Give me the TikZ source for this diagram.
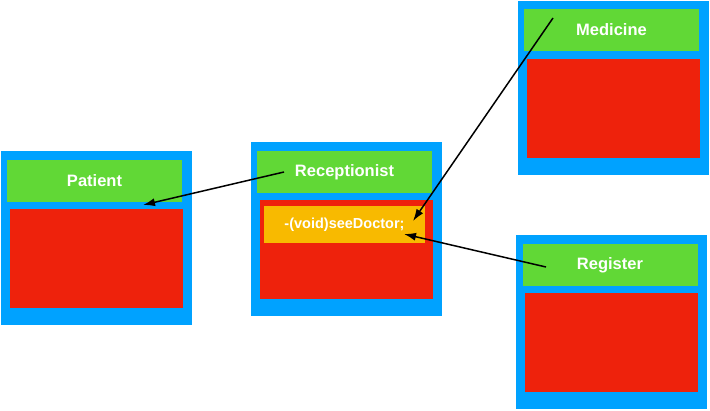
\documentclass[tikz,border=0pt]{standalone}
\usepackage{fontspec}
\setmainfont{Liberation Sans}
\usetikzlibrary{arrows.meta}
\definecolor{classblue}{HTML}{00A2FF}
\definecolor{titlegreen}{HTML}{61D836}
\definecolor{bodyred}{HTML}{EE220C}
\definecolor{methodorange}{HTML}{F8BA00}
\begin{document}
\begin{tikzpicture}[x=1pt,y=-1pt,
    classbox/.style={fill=classblue, minimum width=191pt, minimum height=174pt, inner sep=0pt},
    titlebox/.style={fill=titlegreen, minimum width=175pt, minimum height=42pt, inner sep=0pt,
        text=white, font=\fontsize{16.5}{18}\selectfont\bfseries},
    bodybox/.style={fill=bodyred, minimum width=173pt, minimum height=99pt, inner sep=0pt},
    methodbox/.style={fill=methodorange, minimum width=161pt, minimum height=37pt, inner sep=0pt,
        text=white, font=\fontsize{14.5}{16}\selectfont\bfseries},
    link/.style={-{Latex[length=12pt,width=8pt]}, line width=1.5pt}]
    \useasboundingbox (0,0) rectangle (710,410);

    \node[classbox] (patient) at (96,238) {};
    \node[titlebox] (patientTitle) at (94.5,181) {Patient};
    \node[bodybox] (patientBody) at (96.5,258) {};

    \node[classbox] (receptionist) at (346.5,229) {};
    \node[titlebox] (receptionistTitle) at (344.5,172) {Receptionist};
    \node[bodybox] (receptionistBody) at (346.5,249.5) {};
    \node[methodbox] (seeDoctor) at (344.5,224.5) {-(void)seeDoctor;};

    \node[classbox] (medicine) at (613.5,87.5) {};
    \node[titlebox] (medicineTitle) at (611.5,30) {Medicine};
    \node[bodybox] (medicineBody) at (613.5,108.5) {};

    \node[classbox] (register) at (611.5,321.5) {};
    \node[titlebox] (registerTitle) at (610,265) {Register};
    \node[bodybox] (registerBody) at (611.5,342.5) {};

    \coordinate (receptionistFrom) at (284,172);
    \coordinate (patientTo) at (143,205);
    \coordinate (medicineFrom) at (553,18);
    \coordinate (seeDoctorTop) at (413,221);
    \coordinate (registerFrom) at (546,267);
    \coordinate (seeDoctorRight) at (404,234);

    \draw[link] (receptionistFrom) -- (patientTo);
    \draw[link] (medicineFrom) -- (seeDoctorTop);
    \draw[link] (registerFrom) -- (seeDoctorRight);
\end{tikzpicture}
\end{document}
